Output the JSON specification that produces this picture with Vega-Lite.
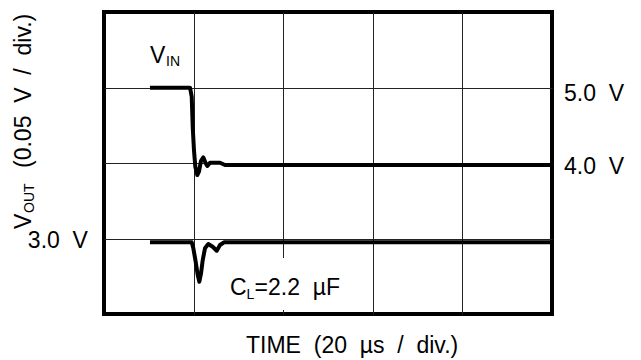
{
  "$schema": "https://vega.github.io/schema/vega-lite/v6.json",
  "width": 448,
  "height": 302,
  "autosize": {"type": "none"},
  "padding": {"left": 104, "top": 12, "right": 89, "bottom": 46},
  "background": "white",
  "config": {
    "view": {"stroke": "black", "strokeWidth": 4},
    "text": {"font": "Liberation Sans", "color": "black"}
  },
  "datasets": {
    "traces": [
      {"s": "vin", "t": 0.513, "v": 2.997},
      {"s": "vin", "t": 0.960, "v": 2.997},
      {"s": "vin", "t": 0.979, "v": 2.878},
      {"s": "vin", "t": 0.990, "v": 2.481},
      {"s": "vin", "t": 1.004, "v": 2.172},
      {"s": "vin", "t": 1.019, "v": 1.951},
      {"s": "vin", "t": 1.041, "v": 1.841},
      {"s": "vin", "t": 1.060, "v": 1.885},
      {"s": "vin", "t": 1.083, "v": 2.030},
      {"s": "vin", "t": 1.108, "v": 2.075},
      {"s": "vin", "t": 1.135, "v": 1.996},
      {"s": "vin", "t": 1.153, "v": 1.960},
      {"s": "vin", "t": 1.183, "v": 2.004},
      {"s": "vin", "t": 1.295, "v": 2.004},
      {"s": "vin", "t": 1.350, "v": 1.974},
      {"s": "vin", "t": 5.0, "v": 1.974},
      {"s": "vout", "t": 0.513, "v": 0.950},
      {"s": "vout", "t": 0.979, "v": 0.950},
      {"s": "vout", "t": 0.997, "v": 0.870},
      {"s": "vout", "t": 1.023, "v": 0.693},
      {"s": "vout", "t": 1.046, "v": 0.517},
      {"s": "vout", "t": 1.064, "v": 0.428},
      {"s": "vout", "t": 1.083, "v": 0.539},
      {"s": "vout", "t": 1.102, "v": 0.715},
      {"s": "vout", "t": 1.127, "v": 0.870},
      {"s": "vout", "t": 1.164, "v": 0.927},
      {"s": "vout", "t": 1.213, "v": 0.891},
      {"s": "vout", "t": 1.258, "v": 0.838},
      {"s": "vout", "t": 1.295, "v": 0.914},
      {"s": "vout", "t": 1.339, "v": 0.950},
      {"s": "vout", "t": 5.0, "v": 0.950}
    ],
    "labels": [
      {"kind": "main", "text": "5.0\u00a0\u00a0V", "t": 5.134, "v": 2.821},
      {"kind": "main", "text": "4.0\u00a0\u00a0V", "t": 5.134, "v": 1.854},
      {"kind": "right", "text": "3.0\u00a0\u00a0V", "t": -0.179, "v": 0.874},
      {"kind": "main", "text": "TIME\u00a0\u00a0(20\u00a0\u00a0µs\u00a0\u00a0/\u00a0\u00a0div.)", "t": 1.585, "v": -0.517},
      {"kind": "main", "text": "V", "t": 0.513, "v": 3.325},
      {"kind": "sub", "text": "IN", "t": 0.692, "v": 3.285},
      {"kind": "main", "text": "C", "t": 1.406, "v": 0.252},
      {"kind": "sub", "text": "L", "t": 1.590, "v": 0.205},
      {"kind": "main", "text": "=2.2\u00a0\u00a0µF", "t": 1.680, "v": 0.252},
      {"kind": "rot", "text": "V", "t": -0.815, "v": 1.126},
      {"kind": "rotsub", "text": "OUT", "t": -0.781, "v": 1.338},
      {"kind": "rot", "text": "(0.05\u00a0\u00a0V\u00a0\u00a0/\u00a0\u00a0div.)", "t": -0.815, "v": 1.934}
    ],
    "mask": [
      {"t1": 1.40, "t2": 2.76, "v1": 0.053, "v2": 0.742}
    ]
  },
  "layer": [
    {
      "data": {"name": "mask"},
      "mark": {"type": "rect", "fill": "white", "stroke": null},
      "encoding": {
        "x": {"field": "t1", "type": "quantitative", "scale": {"domain": [0, 5], "nice": false, "zero": false},
              "axis": {"values": [1, 2, 3, 4], "grid": true, "gridColor": "#222", "gridWidth": 1, "labels": false, "ticks": false, "domain": false, "title": null}},
        "x2": {"field": "t2"},
        "y": {"field": "v1", "type": "quantitative", "scale": {"domain": [0, 4], "nice": false, "zero": false},
              "axis": {"values": [1, 2, 3], "grid": true, "gridColor": "#222", "gridWidth": 1, "labels": false, "ticks": false, "domain": false, "title": null}},
        "y2": {"field": "v2"}
      }
    },
    {
      "data": {"name": "traces"},
      "mark": {"type": "line", "color": "black", "strokeWidth": 4, "strokeJoin": "round"},
      "encoding": {
        "x": {"field": "t", "type": "quantitative"},
        "y": {"field": "v", "type": "quantitative"},
        "detail": {"field": "s"}
      }
    },
    {
      "data": {"name": "labels"},
      "transform": [{"filter": "datum.kind === 'main'"}],
      "mark": {"type": "text", "fontSize": 23, "align": "left", "baseline": "alphabetic"},
      "encoding": {
        "x": {"field": "t", "type": "quantitative"},
        "y": {"field": "v", "type": "quantitative"},
        "text": {"field": "text"}
      }
    },
    {
      "data": {"name": "labels"},
      "transform": [{"filter": "datum.kind === 'right'"}],
      "mark": {"type": "text", "fontSize": 23, "align": "right", "baseline": "alphabetic"},
      "encoding": {
        "x": {"field": "t", "type": "quantitative"},
        "y": {"field": "v", "type": "quantitative"},
        "text": {"field": "text"}
      }
    },
    {
      "data": {"name": "labels"},
      "transform": [{"filter": "datum.kind === 'sub'"}],
      "mark": {"type": "text", "fontSize": 14, "align": "left", "baseline": "alphabetic"},
      "encoding": {
        "x": {"field": "t", "type": "quantitative"},
        "y": {"field": "v", "type": "quantitative"},
        "text": {"field": "text"}
      }
    },
    {
      "data": {"name": "labels"},
      "transform": [{"filter": "datum.kind === 'rot'"}],
      "mark": {"type": "text", "fontSize": 23, "align": "left", "baseline": "alphabetic", "angle": 270},
      "encoding": {
        "x": {"field": "t", "type": "quantitative"},
        "y": {"field": "v", "type": "quantitative"},
        "text": {"field": "text"}
      }
    },
    {
      "data": {"name": "labels"},
      "transform": [{"filter": "datum.kind === 'rotsub'"}],
      "mark": {"type": "text", "fontSize": 14, "align": "left", "baseline": "alphabetic", "angle": 270},
      "encoding": {
        "x": {"field": "t", "type": "quantitative"},
        "y": {"field": "v", "type": "quantitative"},
        "text": {"field": "text"}
      }
    }
  ]
}
